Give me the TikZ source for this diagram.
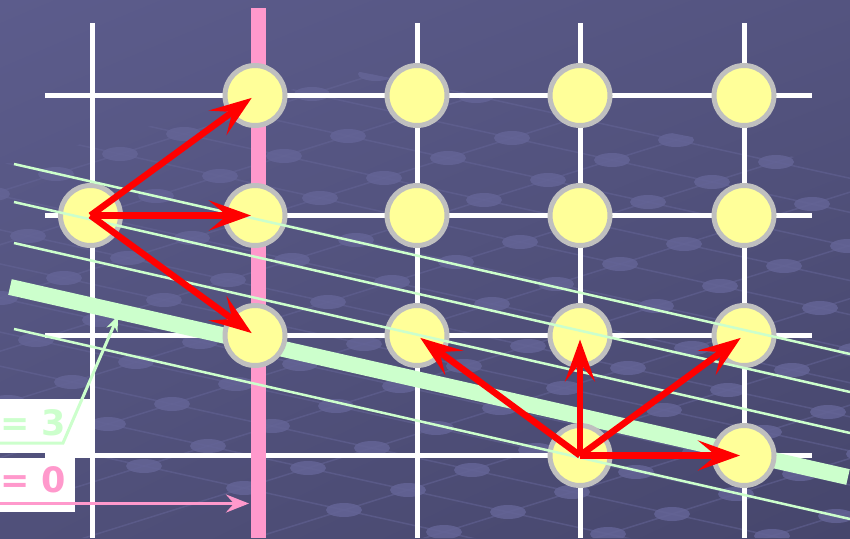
\documentclass[tikz,border=0pt]{standalone}
\usepackage{fontspec}
\newfontfamily\labelfont{DejaVu Sans}
\usetikzlibrary{arrows.meta,shadings}

\definecolor{slateA}{RGB}{92,92,140}
\definecolor{slateB}{RGB}{84,84,128}
\definecolor{slateC}{RGB}{80,80,122}
\definecolor{slateD}{RGB}{70,70,108}
\definecolor{bead}{RGB}{100,100,150}
\definecolor{mint}{HTML}{CCFFCC}
\definecolor{rose}{HTML}{FF99CC}
\definecolor{butter}{HTML}{FFFF99}

\begin{document}
\begin{tikzpicture}[x=1pt,y=-1pt,
  every node/.style={font={\labelfont\bfseries\fontsize{35}{35}\selectfont}},
  site/.style={circle,draw=gray!50,line width=5pt,fill=butter,minimum size=60pt,inner sep=0pt},
  hop/.style={red,line width=6.5pt,-{Stealth[length=42pt,width=30pt,inset=18pt]},shorten >=4pt},
  wire/.style={white,line width=5pt},
  level/.style={mint,line width=2.5pt},
  lattice/.style={bead,line width=1.5pt,opacity=.55}]
  \useasboundingbox (0,0) rectangle (850,538);
  \shade[upper left=slateA,upper right=slateB,lower left=slateC,lower right=slateD]
    (0,0) rectangle (850,538);

  % faint lattice of beads behind the grid
  \begin{scope}
    \clip (0,165) -- (360,72) -- (850,168) -- (850,538) -- (0,538) -- cycle;
    \foreach \j in {-12,...,8}
      \draw[lattice,shift={(612+\j*64,160-\j*20)}] (-1200,-264) -- (1200,264);
    \foreach \i in {-10,...,8}
      \draw[lattice,shift={(612+\i*100,160+\i*22)}] (-960,300) -- (960,-300);
    \foreach \i in {-10,...,8}
      \foreach \j in {-12,...,8}
        \fill[bead,opacity=.85] (612+\i*100+\j*64,160+\i*22-\j*20) ellipse [x radius=18,y radius=7];
  \end{scope}

  \foreach \x in {92,417,580,744}
    \draw[wire] (\x,23) -- (\x,538);
  \foreach \y in {95,215,335,455}
    \draw[wire] (45,\y) -- (812,\y);
  \draw[rose,line width=15pt] (258,8) -- (258,538);
  \draw[mint,line width=16pt] (10,287) -- (848,477);

  \foreach \c/\r in {2/1,3/1,4/1,5/1,1/2,2/2,3/2,4/2,5/2,2/3,3/3,4/3,5/3,4/4,5/4}{
    \pgfmathsetmacro\x{{90.5,255,417,580,744}[\c-1]}
    \node[site] (s\c\r) at (\x,{95.5+120*(\r-1)}) {};
  }

  \foreach \y in {164,202,243,329}
    \draw[level] (14,\y) -- (850,\y+190);

  \fill[white] (0,399) rectangle (90,453);
  \fill[white] (0,458) rectangle (75,512);
  \node[mint,anchor=base west,inner sep=0pt] (tlab) at (0,435) {= 3};
  \node[rose,anchor=base west,inner sep=0pt] (zlab) at (0,492) {= 0};
  \coordinate (tfoot) at (0,443);
  \coordinate (tbend) at (63,443);
  \coordinate (band) at (118,316);
  \coordinate (zfoot) at (0,503.5);
  \coordinate (axis) at (249,503.5);
  \draw[mint,line width=3pt,-{Stealth[length=15pt,width=12pt]}] (tfoot) -- (tbend) -- (band);
  \draw[rose,line width=3.5pt,-{Stealth[length=23pt,width=18pt,inset=8pt]}] (zfoot) -- (axis);

  \foreach \t in {21,22,23}
    \draw[hop] (s12.center) -- (s\t.center);
  \foreach \t in {33,43,53,54}
    \draw[hop] (s44.center) -- (s\t.center);
\end{tikzpicture}
\end{document}
